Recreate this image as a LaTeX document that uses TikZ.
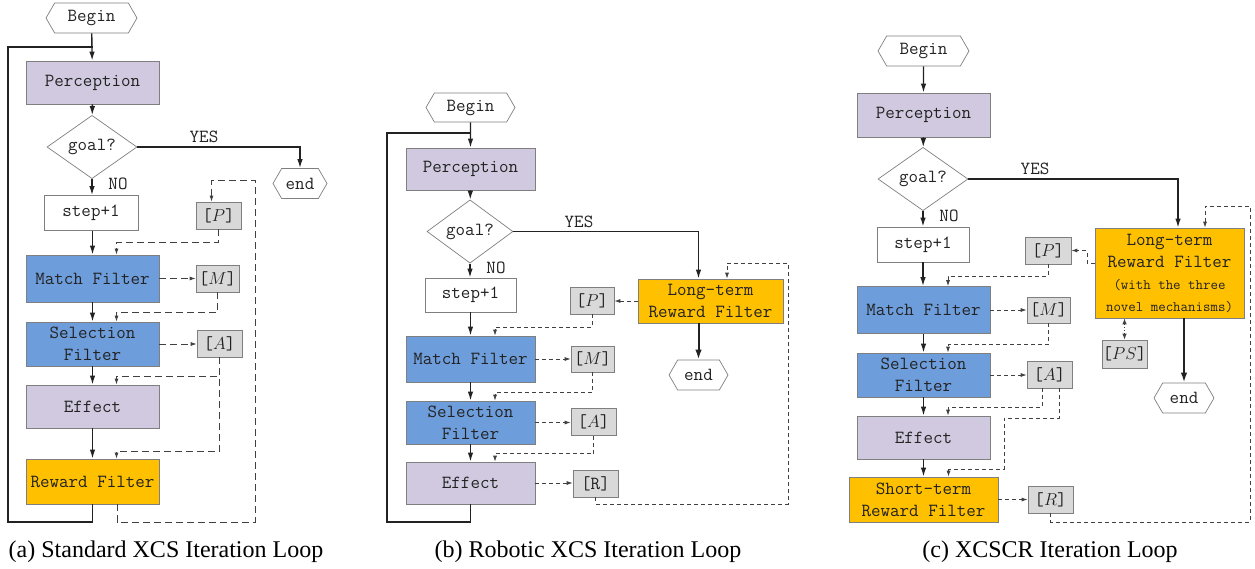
\documentclass[tikz,border=0pt]{standalone}
\usepackage{fontspec}
\setmainfont{Liberation Serif}
\usetikzlibrary{shapes.geometric,shapes.symbols,arrows.meta,calc}

\definecolor{lav}{HTML}{D0C9DF}
\definecolor{blu}{HTML}{6E9DDB}
\definecolor{org}{HTML}{FFC000}
\definecolor{memfill}{HTML}{D9D9D9}
\definecolor{boxline}{HTML}{7F7F7F}
\definecolor{ink}{HTML}{222222}
\definecolor{dashink}{HTML}{404040}

\tikzset{
  lbl/.style={font=\ttfamily\fontsize{18.5}{22}\selectfont, text=ink},
  box/.style={draw=boxline, line width=0.7pt, lbl, align=center, inner sep=0pt},
  lavbox/.style={box, fill=lav},
  blubox/.style={box, fill=blu},
  orgbox/.style={box, fill=org},
  whtbox/.style={box, fill=white},
  memo/.style={box, fill=memfill, minimum width=45pt, minimum height=27pt},
  term/.style={signal, signal to=west and east, signal pointer angle=120,
    draw=boxline, fill=white, line width=0.7pt, lbl, inner sep=0pt},
  test/.style={diamond, draw=boxline, fill=white, line width=0.7pt, lbl, inner sep=0pt},
  link/.style={line width=1.4pt, draw=ink},
  flow/.style={link, -{Latex[length=9pt,width=5.5pt]}},
  bigflow/.style={line width=2pt, draw=ink, -{Latex[length=10pt,width=6.5pt]}},
  dlink/.style={line width=0.8pt, draw=dashink, dash pattern=on 7pt off 4pt},
  dflow/.style={dlink, -{Latex[length=6pt,width=4pt]}},
  slink/.style={line width=0.8pt, draw=dashink, dash pattern=on 4pt off 3pt},
  sflow/.style={slink, -{Latex[length=6pt,width=4pt]}},
  both/.style={line width=0.9pt, draw=dashink, dash pattern=on 1.5pt off 1.5pt,
    {Latex[length=6pt,width=4.5pt]}-{Latex[length=6pt,width=4.5pt]}},
  capt/.style={font=\fontsize{24}{28}\selectfont, anchor=base},
}

\begin{document}
\begin{tikzpicture}[x=1pt,y=-1pt]
\useasboundingbox (0,0) rectangle (1255,568);

% ---------------- (a) standard loop ----------------
\node[term, minimum width=91pt, minimum height=30pt] (beginA) at (91.5,18) {Begin};
\node[lavbox, minimum width=133pt, minimum height=43pt] (percA) at (92.5,82.5) {Perception};
\node[test, minimum width=90pt, minimum height=52pt] (goalA) at (92,147) {goal?};
\node[term, minimum width=54pt, minimum height=30pt] (endA) at (300,183.5) {end};
\node[whtbox, minimum width=94pt, minimum height=35pt] (stepA) at (91,213) {step+1};
\node[blubox, minimum width=133pt, minimum height=47pt] (matchA) at (92.5,278.5) {Match Filter};
\node[blubox, minimum width=133pt, minimum height=44pt] (selA) at (92.5,344) {Selection\\Filter};
\node[lavbox, minimum width=133pt, minimum height=43pt] (effA) at (92.5,406.5) {Effect};
\node[orgbox, minimum width=133pt, minimum height=45pt] (rewA) at (92.5,481.5) {Reward Filter};
\node[memo] (pA) at (218.5,215.5) {[$P$]};
\node[memo, minimum width=43pt] (mA) at (217.5,278.5) {[$M$]};
\node[memo] (aA) at (219.5,343.5) {[$A$]};
\node[lbl] (yesA) at (204,137) {YES};
\node[lbl] (noA) at (118,184) {NO};

\coordinate (cornerA) at (8,522);
\coordinate (topA) at (8,47);
\coordinate (rimA1) at (255,522);
\coordinate (rimA2) at (255,180);

\draw[flow] (beginA) -- (percA);
\draw[link] (rewA.south) |- (cornerA) -- (topA) -- (topA -| percA.north);
\draw[flow] (percA) -- (goalA);
\draw[flow] (goalA.east) -| (endA.north);
\draw[flow] (goalA) -- (stepA.north -| goalA.south);
\draw[flow] (stepA.south -| matchA.north) -- (matchA.north);
\draw[flow] (matchA) -- (selA);
\draw[flow] (selA) -- (effA);
\draw[flow] (effA) -- (rewA);

\draw[dflow] ([xshift=24.5pt]rewA.south) |- (rimA1) -- (rimA2) -| ([xshift=-7pt]pA.north);
\draw[dflow] (pA.south) -- ++(0,13) -| ([xshift=24pt]matchA.north);
\draw[dflow] (matchA.east) -- (mA.west);
\draw[dflow] (mA.south) -- ++(0,20) -| ([xshift=24pt]selA.north);
\draw[dflow] (selA.east) -- (selA.east -| aA.west);
\draw[dflow] (aA.south) -- ++(0,19) -| ([xshift=24pt]effA.north);
\draw[dflow] (aA.south) -- ++(0,94) -| ([xshift=24pt]rewA.north);

\node[capt] (captA) at (166,557) {(a) Standard XCS Iteration Loop};

% ---------------- (b) robotic loop ----------------
\node[term, minimum width=89pt, minimum height=29pt] (beginB) at (470.5,107.5) {Begin};
\node[lavbox, minimum width=129pt, minimum height=42pt] (percB) at (470.5,169) {Perception};
\node[test, minimum width=86pt, minimum height=51pt] (goalB) at (470,231.5) {goal?};
\node[whtbox, minimum width=91pt, minimum height=34pt] (stepB) at (470.5,295) {step+1};
\node[orgbox, minimum width=145pt, minimum height=44pt] (ltB) at (710.5,301) {Long-term\\Reward Filter};
\node[term, minimum width=59pt, minimum height=30pt] (endB) at (698.5,375) {end};
\node[memo, minimum width=44pt] (pB) at (592,300.5) {[$P$]};
\node[blubox, minimum width=129pt, minimum height=46pt] (matchB) at (470.5,359) {Match Filter};
\node[memo, minimum width=43pt, minimum height=26pt] (mB) at (592.5,359) {[$M$]};
\node[blubox, minimum width=129pt, minimum height=43pt] (selB) at (470.5,422.5) {Selection\\Filter};
\node[memo] (aB) at (593.5,422) {[$A$]};
\node[lavbox, minimum width=129pt, minimum height=42pt] (effB) at (470.5,483) {Effect};
\node[memo] (rB) at (595.5,483.5) {[R]};
\node[lbl] (yesB) at (579,222) {YES};
\node[lbl] (noB) at (496,268) {NO};

\coordinate (cornerB) at (387,522);
\coordinate (topB) at (387,133);
\coordinate (rimB1) at (788,504);
\coordinate (rimB2) at (788,263);

\draw[flow] (beginB) -- (percB);
\draw[link] (effB.south) |- (cornerB) -- (topB) -- (topB -| percB.north);
\draw[flow] (percB) -- (goalB);
\draw[flow] (goalB.east) -| (endB.north |- ltB.north);
\draw[flow] (goalB) -- (stepB.north -| goalB.south);
\draw[flow] (stepB.south -| matchB.north) -- (matchB.north);
\draw[flow] (matchB) -- (selB);
\draw[flow] (selB) -- (effB);
\draw[bigflow] (endB.north |- ltB.south) -- (endB.north);

\draw[sflow] (ltB.west) -- (ltB.west -| pB.east);
\draw[sflow] (pB.south) -- ++(0,13) -| ([xshift=24.5pt]matchB.north);
\draw[sflow] (matchB.east) -- (mB.west);
\draw[sflow] (mB.south) -- ++(0,20) -| ([xshift=24.5pt]selB.north);
\draw[sflow] (selB.east) -- (selB.east -| aB.west);
\draw[sflow] (aB.south) -- ++(0,18) -| ([xshift=24.5pt]effB.north);
\draw[sflow] (effB.east) -- (effB.east -| rB.west);
\draw[sflow] (rB.south) |- (rimB1) -- (rimB2) -| ([xshift=16.5pt]ltB.north);

\node[capt] (captB) at (588,557) {(b) Robotic XCS Iteration Loop};

% ---------------- (c) XCSCR loop ----------------
\node[term, minimum width=91pt, minimum height=30pt] (beginC) at (923.5,51) {Begin};
\node[lavbox, minimum width=133pt, minimum height=44pt] (percC) at (923.5,115) {Perception};
\node[test, minimum width=90pt, minimum height=52pt] (goalC) at (923,179) {goal?};
\node[whtbox, minimum width=92pt, minimum height=35pt] (stepC) at (923,244.5) {step+1};
\node[orgbox, minimum width=149pt, minimum height=90pt] (ltC) at (1169.5,273)
  {Long-term\\Reward Filter\\{\fontsize{14.5}{20}\selectfont(with the three}\\{\fontsize{14.5}{20}\selectfont novel mechanisms)}};
\node[memo, minimum width=46pt] (pC) at (1048,250.5) {[$P$]};
\node[blubox, minimum width=133pt, minimum height=47pt] (matchC) at (923.5,310) {Match Filter};
\node[memo, minimum width=43pt, minimum height=26pt] (mC) at (1048.5,310) {[$M$]};
\node[blubox, minimum width=133pt, minimum height=44pt] (selC) at (923.5,375) {Selection\\Filter};
\node[memo] (aC) at (1049.5,374.5) {[$A$]};
\node[lavbox, minimum width=133pt, minimum height=43pt] (effC) at (923.5,437.5) {Effect};
\node[orgbox, minimum width=149pt, minimum height=45pt] (shortC) at (923.5,499.5) {Short-term\\Reward Filter};
\node[memo] (rC) at (1050.5,499.5) {[$R$]};
\node[memo, minimum height=28pt] (psC) at (1124.5,354) {[$PS$]};
\node[term, minimum width=60pt, minimum height=30pt] (endC) at (1184,398) {end};
\node[lbl] (yesC) at (1035,169) {YES};
\node[lbl] (noC) at (949,216) {NO};

\coordinate (kinkC1) at (1004,418);
\coordinate (kinkC2) at (1004,469);
\coordinate (rimC1) at (1250,522);
\coordinate (rimC2) at (1250,206);
\coordinate (bendC) at (1087,263);

\draw[flow] (beginC) -- (percC);
\draw[flow] (percC) -- (goalC);
\draw[flow] (goalC.east) -| ([xshift=8.5pt]ltC.north);
\draw[flow] (goalC) -- (stepC);
\draw[flow] (stepC) -- (stepC.south |- matchC.north);
\draw[flow] (matchC) -- (selC);
\draw[flow] (selC) -- (effC);
\draw[flow] (effC) -- (shortC);
\draw[bigflow] (endC.north |- ltC.south) -- (endC.north);
\draw[both] (psC.north |- ltC.south) -- (psC.north);

\draw[sflow] ([yshift=10pt]ltC.west) -- (bendC) |- (pC.east);
\draw[sflow] (pC.south) -- ++(0,12) -| ([xshift=24.5pt]matchC.north);
\draw[sflow] (matchC.east) -- (mC.west);
\draw[sflow] (mC.south) -- ++(0,21) -| ([xshift=24.5pt]selC.north);
\draw[sflow] (selC.east) -- (selC.east -| aC.west);
\draw[sflow] ([xshift=-7.5pt]aC.south) -- ++(0,19) -| ([xshift=24.5pt]effC.north);
\draw[sflow] ([xshift=9.5pt]aC.south) |- (kinkC1) -- (kinkC2) -| ([xshift=25pt]shortC.north);
\draw[sflow] (shortC.east) -- (shortC.east -| rC.west);
\draw[sflow] (rC.south) |- (rimC1) -- (rimC2) -| ([xshift=35.5pt]ltC.north);

\node[capt] (captC) at (1050,557) {(c) XCSCR Iteration Loop};
\end{tikzpicture}
\end{document}
